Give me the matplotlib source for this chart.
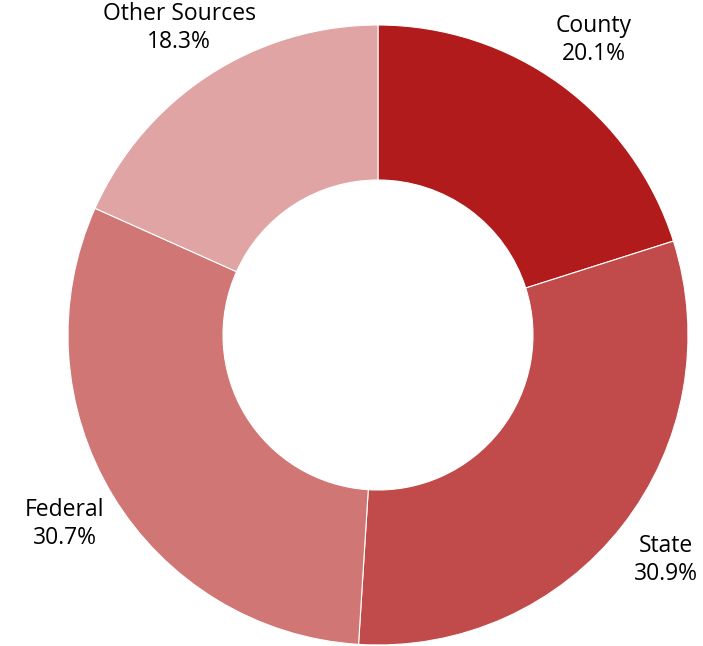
import numpy as np
import matplotlib.pyplot as plt

# -- data --
labels = ["County", "State", "Federal", "Other Sources"]
shares = [20.1, 30.9, 30.7, 18.3]
colors = ["#B21B1C", "#C14A4B", "#D07675", "#E0A4A4"]

plt.rcParams['font.family'] = ['Open Sans', 'DejaVu Sans']

fig = plt.figure(figsize=(7.03, 6.46), dpi=100)
ax = fig.add_axes([0, 0, 1, 1])

wedges, _ = ax.pie(shares, colors=colors, startangle=90, counterclock=False,
                   radius=1.0, wedgeprops=dict(width=0.5, edgecolor='white', linewidth=0.8))

# pie centre at (378, 335) px, outer radius 310 px
cx, cy, rad = 378, 335, 310
ax.set_xlim(-cx / rad, (703 - cx) / rad)
ax.set_ylim(-(646 - cy) / rad, cy / rad)
ax.set_aspect('equal')
ax.axis('off')

# labels along the middle angle of each slice
total = sum(shares)
cum = np.cumsum([0] + shares[:-1])
for lab, val, c0 in zip(labels, shares, cum):
    mid = np.deg2rad(90 - (c0 + val / 2) / total * 360)
    r = 1.18
    ax.text(r * np.cos(mid), r * np.sin(mid), f"{lab}\n{val:.1f}%",
            ha='center', va='center', fontsize=16.5, color='#000000',
            linespacing=1.2)

fig.savefig("out.png", dpi=100)
